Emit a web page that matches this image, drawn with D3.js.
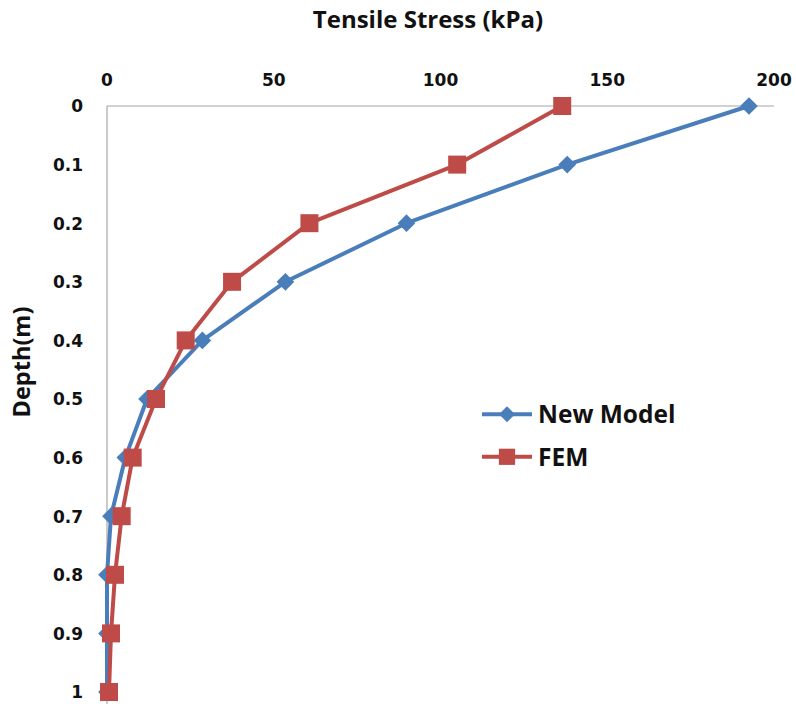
<!DOCTYPE html>
<html>
<head>
<meta charset="utf-8">
<script src="https://cdn.jsdelivr.net/npm/d3@7"></script>
<style>
  body { margin: 0; background: #fff; }
  svg text { font-family: "Open Sans", "Liberation Sans", sans-serif; font-weight: bold; fill: #111; }
  svg text.tick { font-family: "DejaVu Sans", Verdana, sans-serif; }
</style>
</head>
<body>
<svg id="chart" width="796" height="704"></svg>
<script>
const depths = [0, 0.1, 0.2, 0.3, 0.4, 0.5, 0.6, 0.7, 0.8, 0.9, 1];
const newModel = [192.5, 138, 89.8, 53.5, 28.6, 12, 5.5, 1.2, 0, 0, 0];
const fem = [136.5, 105, 60.7, 37.5, 23.6, 14.7, 7.7, 4.4, 2.4, 1.2, 0.6];
const xTicks = [0, 50, 100, 150, 200];
const yTicks = [0, 0.1, 0.2, 0.3, 0.4, 0.5, 0.6, 0.7, 0.8, 0.9, 1];
const seriesNames = ["New Model", "FEM"];
const colors = ["#4A7EBB", "#BE4B48"];

const svg = d3.select("#chart");
const x = d3.scaleLinear().domain([0, 200]).range([107, 774]);
const y = d3.scaleLinear().domain([0, 1]).range([106, 692]);

// axis lines
svg.append("line").attr("x1", x(0)).attr("x2", x(200)).attr("y1", y(0)).attr("y2", y(0))
  .attr("stroke", "#a6a6a6").attr("stroke-width", 1.2);
svg.append("line").attr("x1", x(0)).attr("x2", x(0)).attr("y1", y(0)).attr("y2", 704)
  .attr("stroke", "#a6a6a6").attr("stroke-width", 1.2);

// x tick labels (top)
svg.selectAll(".xt").data(xTicks).enter().append("text").attr("class", "tick")
  .attr("x", d => x(d)).attr("y", 86).attr("text-anchor", "middle")
  .attr("font-size", 17).text(d => d);

// y tick labels
svg.selectAll(".yt").data(yTicks).enter().append("text").attr("class", "tick")
  .attr("x", 83).attr("y", d => y(d) + 6.3).attr("text-anchor", "end")
  .attr("font-size", 17).text(d => d);

// titles
svg.append("text").attr("x", 428).attr("y", 27.5).attr("text-anchor", "middle")
  .attr("font-size", 24).text("Tensile Stress (kPa)");
svg.append("text").attr("transform", "translate(29.5,362) rotate(-90)")
  .attr("text-anchor", "middle").attr("font-size", 23.5).text("Depth(m)");

const series = [newModel, fem];
const line = d3.line().x(d => x(d[0])).y(d => y(d[1]));

series.forEach((vals, i) => {
  const pts = vals.map((v, j) => [v, depths[j]]);
  svg.append("path").datum(pts).attr("d", line)
    .attr("fill", "none").attr("stroke", colors[i]).attr("stroke-width", 4)
    .attr("stroke-linejoin", "round");
});

function marker(g, i, cx, cy, s) {
  if (i === 0) {
    g.append("path").attr("d", d3.symbol().type(d3.symbolDiamond2).size(200 * s * s)())
      .attr("transform", `translate(${cx},${cy})`).attr("fill", colors[0]);
  } else {
    const h = 9 * s;
    g.append("rect").attr("x", cx - h).attr("y", cy - h).attr("width", 2 * h).attr("height", 2 * h)
      .attr("fill", colors[1]);
  }
}

series.forEach((vals, i) => {
  const g = svg.append("g");
  vals.forEach((v, j) => marker(g, i, x(v), y(depths[j]), 1));
});

// legend
seriesNames.forEach((name, i) => {
  const ly = 414.3 + i * 42.5;
  svg.append("line").attr("x1", 482).attr("x2", 532).attr("y1", ly).attr("y2", ly)
    .attr("stroke", colors[i]).attr("stroke-width", 4);
  marker(svg.append("g"), i, 507, ly, 0.9);
  svg.append("text").attr("x", 538).attr("y", ly + 9).attr("font-size", 24.5).text(name);
});
</script>
</body>
</html>
